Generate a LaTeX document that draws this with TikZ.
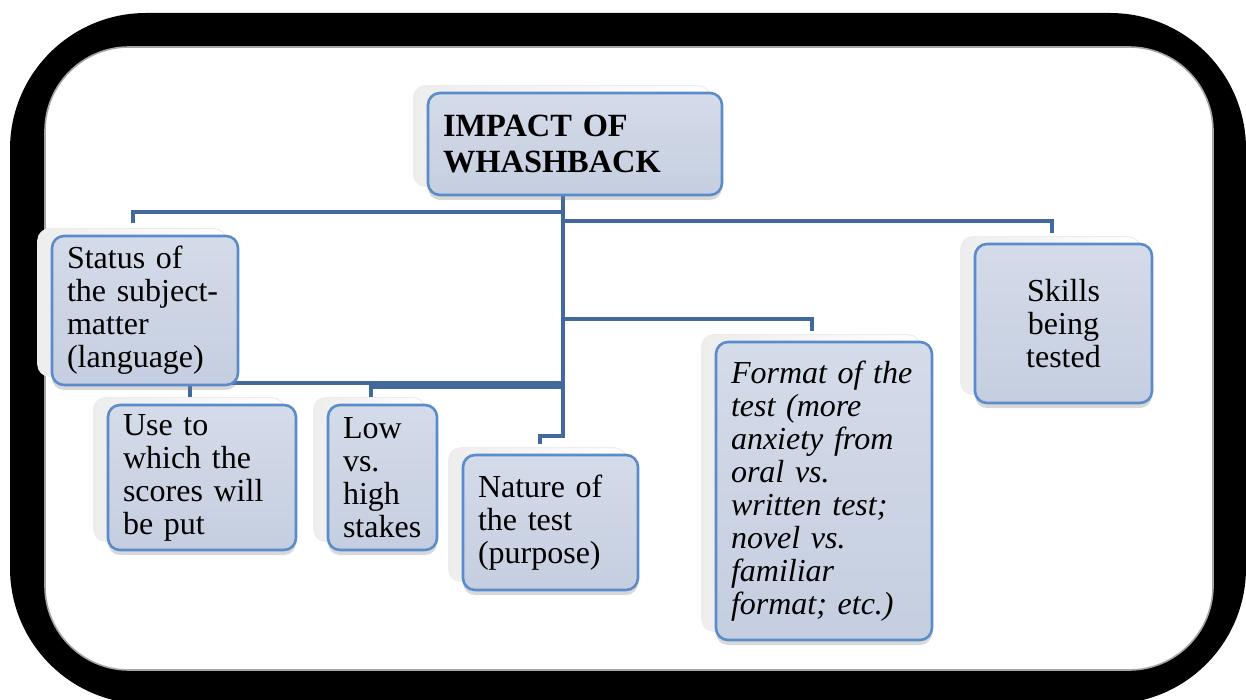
\documentclass[tikz,border=0pt]{standalone}
\usepackage{fontspec}
\setmainfont{Liberation Serif}
\usetikzlibrary{calc,shadows,backgrounds}

\definecolor{boxtop}{HTML}{D4DBE9}
\definecolor{boxbot}{HTML}{C5CEE0}
\definecolor{boxline}{HTML}{5A8BCB}
\definecolor{connline}{HTML}{41699E}

\tikzset{
  box/.style={rounded corners=6pt, draw=boxline, line width=1.3pt,
    top color=boxtop, bottom color=boxbot,
    inner xsep=7.5pt, inner ysep=0pt, align=left,
    font=\fontsize{16}{16.5}\selectfont,
    drop shadow={shadow xshift=0pt, shadow yshift=-2.5pt, opacity=0.3}},
  plate/.style={rounded corners=6pt, draw=gray!15, line width=0.5pt,
    left color=gray!14, right color=white},
  conn/.style={draw=connline, line width=2pt, line join=miter, line cap=rect},
}

\newcommand\backplate[1]{%
  \path[plate] ($(#1.north west)+(-13,-6)$) rectangle ($(#1.south east)+(-13,-10)$);}

\begin{document}
\begin{tikzpicture}[x=0.5pt,y=-0.5pt]
\useasboundingbox (0,0) rectangle (1246,700);
\clip (0,0) rectangle (1246,700);

% boxes
\node[box, font=\bfseries\fontsize{16.2}{18}\selectfont,
      minimum width=147pt, minimum height=51pt, text width=132pt]
  (title) at (575,144) {IMPACT OF\\WHASHBACK};
\node[box, minimum width=93pt, minimum height=74.5pt, text width=78pt]
  (status) at (145,310.5) {Status of\\the subject-\\matter\\(language)};
\node[box, minimum width=94pt, minimum height=72.5pt, text width=79pt]
  (use) at (202,477.5) {Use to\\which the\\scores will\\be put};
\node[box, minimum width=54.5pt, minimum height=72.5pt, text width=39.5pt]
  (low) at (382.5,477.5) {Low\\vs.\\high\\stakes};
\node[box, minimum width=87.5pt, minimum height=67.5pt, text width=72.5pt]
  (nature) at (550.5,522.5) {Nature of\\the test\\(purpose)};
\node[box, minimum width=108pt, minimum height=149pt, text width=93pt]
  (format) at (824,491) {\itshape Format of the\\\itshape test (more\\\itshape anxiety from\\\itshape oral vs.\\\itshape written test;\\\itshape novel vs.\\\itshape familiar\\{\itshape format; etc.})};
\node[box, align=center, minimum width=88.5pt, minimum height=79.5pt, text width=73.5pt]
  (skills) at (1063.5,323.5) {Skills\\being\\tested};

\begin{scope}[on background layer]
  % rounded black frame around the sheet
  \fill[white] (0,0) rectangle (1246,700);
  \fill[black, rounded corners=68pt] (10,13) rectangle (1246,704);
  \filldraw[fill=white, draw=gray!70, line width=0.8pt, rounded corners=42pt]
    (45,47) rectangle (1213,670);

  % faint plates behind each box
  \backplate{title}
  \backplate{status}
  \backplate{use}
  \backplate{low}
  \backplate{nature}
  \backplate{format}
  \backplate{skills}

  % connectors from the central trunk
  \coordinate (hub) at ($(title.south)+(-12,0)$);
  \draw[conn] (hub) |- ($(status.north)+(-12,-23)$) -- ($(status.north)+(-12,-14)$);
  \draw[conn] (hub) |- ($(skills.north)+(-11.5,-22)$) -- ($(skills.north)+(-11.5,-12)$);
  \draw[conn] (hub) |- ($(format.north)+(-12,-22)$) -- ($(format.north)+(-12,-12)$);
  \draw[conn] (hub) |- ($(use.north)+(-12,-21)$) -- ($(use.north)+(-12,-9)$);
  \draw[conn] (hub) |- ($(low.north)+(-11.5,-17)$) -- ($(low.north)+(-11.5,-9)$);
  \draw[conn] (hub) |- ($(nature.north)+(-10.5,-18)$) -- ($(nature.north)+(-10.5,-12)$);
\end{scope}
\end{tikzpicture}
\end{document}
